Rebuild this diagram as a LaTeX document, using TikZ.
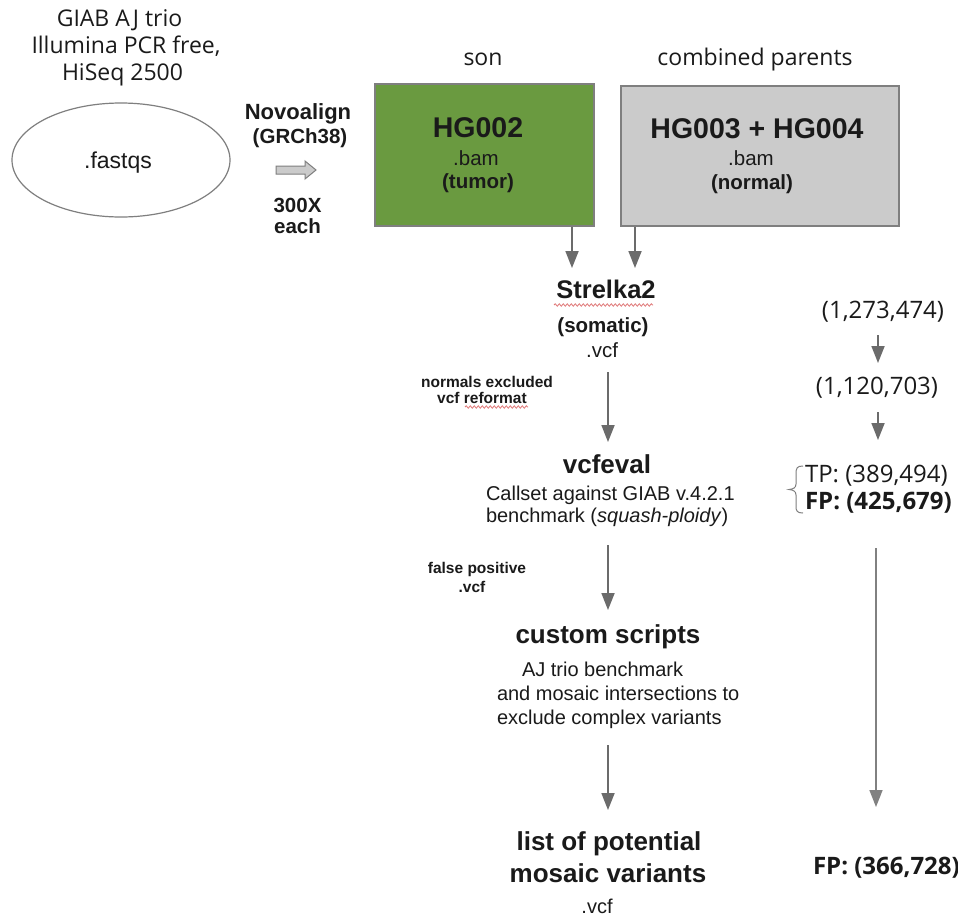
\documentclass[tikz,border=0pt]{standalone}
\usepackage{fontspec}
\setmainfont{Liberation Sans}
\newfontfamily\os{Open Sans}
\usetikzlibrary{arrows.meta,decorations.pathmorphing,shapes.geometric}
\definecolor{grn}{HTML}{6A9A40}
\definecolor{gbox}{HTML}{CBCBCB}
\definecolor{edge}{HTML}{7F7F7F}
\definecolor{arrg}{HTML}{6B6B6B}
\definecolor{txt}{HTML}{1A1A1A}
\definecolor{squig}{HTML}{E07878}
\newcommand\fs[1]{\fontsize{#1}{#1}\selectfont}
\begin{document}
\begin{tikzpicture}[x=1pt,y=-1pt,
  lab/.style={inner sep=0pt, outer sep=0pt, anchor=base, text=txt},
  labl/.style={lab, anchor=base west},
  arr/.style={draw=arrg, line width=1.8pt, -{Triangle[width=13pt,length=17pt]}},
  longarr/.style={draw=arrg!85, line width=1.6pt, -{Triangle[width=13pt,length=17pt]}},
  squiggle/.style={draw=squig, line width=0.8pt, decorate, decoration={snake, amplitude=1.2pt, segment length=4pt}}]
\useasboundingbox (0,0) rectangle (958,918);
\fill[white] (0,0) rectangle (958,918);

% source
\node[lab] (g1) at (119.5,26) {\os\fs{23}GIAB AJ trio};
\node[lab] (g2) at (126,53) {\os\fs{23}Illumina PCR free,};
\node[lab] (g3) at (122.5,80) {\os\fs{23}HiSeq 2500};
\node[draw=edge, line width=1.2pt, ellipse, minimum width=218pt, minimum height=114pt, inner sep=0pt] (fq) at (121,160) {};
\node[lab] (fqt) at (118,168) {\fs{23}.fastqs};

% aligner
\node[lab] (nv) at (298,119) {\bfseries\fs{22}Novoalign};
\node[lab] (gr) at (300,143) {\bfseries\fs{20.5}(GRCh38)};
\draw[draw=edge, fill=gbox, line width=1pt] (276,166) -- (305,166) -- (305,161) -- (316,170) -- (305,179) -- (305,174) -- (276,174) -- cycle;
\node[lab] (x3) at (297.5,212) {\bfseries\fs{20.5}300X};
\node[lab] (ea) at (297.5,233) {\bfseries\fs{20.5}each};

% samples
\node[lab] (son) at (483,65) {\os\fs{23}son};
\node[lab] (par) at (755,65) {\os\fs{23}combined parents};
\node[draw=edge, fill=grn, line width=1.5pt, minimum width=219pt, minimum height=142pt, inner sep=0pt, anchor=north west] (hg2) at (374,83) {};
\node[draw=edge, fill=gbox, line width=1.5pt, minimum width=278pt, minimum height=140pt, inner sep=0pt, anchor=north west] (hg34) at (620,85) {};
\node[lab] (h2a) at (478,137) {\bfseries\fs{28.5}HG002};
\node[lab] (h2b) at (476,165) {\fs{20.5}.bam};
\node[lab] (h2c) at (478,188) {\bfseries\fs{20.5}(tumor)};
\node[lab] (h3a) at (757,138) {\bfseries\fs{28.5}HG003 + HG004};
\node[lab] (h3b) at (751,165) {\fs{20.5}.bam};
\node[lab] (h3c) at (752,189) {\bfseries\fs{20.5}(normal)};

% Strelka2
\coordinate (a1) at (572,268);
\coordinate (a2) at (635,268);
\draw[arr] (hg2.south -| a1) -- (a1);
\draw[arr] (hg34.south -| a2) -- (a2);
\node[lab] (st) at (606,298) {\bfseries\fs{25.5}Strelka2};
\draw[squiggle] (554,305) -- (653,305);
\node[lab] (sts) at (603,332) {\bfseries\fs{20.5}(somatic)};
\node[lab] (stv) at (602,357) {\fs{20.5}.vcf};
\node[lab] (ne1) at (487,387) {\bfseries\fs{15.5}normals excluded};
\node[lab] (ne2) at (482,403) {\bfseries\fs{15.5}vcf reformat};
\draw[squiggle] (465,407) -- (528,407);

% vcfeval
\coordinate (b1) at (608,372);
\coordinate (b2) at (608,442);
\draw[arr] (b1) -- (b2);
\node[lab] (ve) at (607,473) {\bfseries\fs{26}vcfeval};
\node[labl] (ve1) at (486,500) {\fs{20}Callset against GIAB v.4.2.1};
\node[labl] (ve2) at (486,522) {\fs{20}benchmark (\textit{squash-ploidy})};

% custom scripts
\coordinate (c1) at (608,545);
\coordinate (c2) at (608,610);
\draw[arr] (c1) -- (c2);
\node[lab] (fp1) at (477,573) {\bfseries\fs{15.5}false positive};
\node[lab] (fp2) at (472,592) {\bfseries\fs{15.5}.vcf};
\node[lab] (cs) at (608,643) {\bfseries\fs{26}custom scripts};
\node[labl] (cs1) at (522,676) {\fs{20}AJ trio benchmark};
\node[labl] (cs2) at (497,700) {\fs{20}and mosaic intersections to};
\node[labl] (cs3) at (497,724) {\fs{20}exclude complex variants};

% result
\coordinate (d1) at (608,745);
\coordinate (d2) at (608,810);
\draw[arr] (d1) -- (d2);
\node[lab] (ls1) at (609,850) {\bfseries\fs{26}list of potential};
\node[lab] (ls2) at (608,882) {\bfseries\fs{26}mosaic variants};
\node[lab] (ls3) at (597,913) {\fs{20}.vcf};

% counts
\node[lab] (n1) at (883,318) {\os\fs{24}(1,273,474)};
\coordinate (r1a) at (878,335);
\coordinate (r1b) at (878,363);
\draw[arr] (r1a) -- (r1b);
\node[lab] (n2) at (877,394) {\os\fs{24}(1,120,703)};
\coordinate (r2a) at (878,412);
\coordinate (r2b) at (878,440);
\draw[arr] (r2a) -- (r2b);
\node[labl] (tp) at (805,482) {\os\fs{24}TP: (389,494)};
\node[labl] (fp) at (805,509) {\os\bfseries\fs{24}FP: (425,679)};
\draw[draw=edge, line width=1pt] (803,466) .. controls (797,466) and (796,468) .. (796,474) -- (796,484) .. controls (796,488) and (793,489) .. (789,489.5) .. controls (793,490) and (796,491) .. (796,495) -- (796,506) .. controls (796,511) and (797,513) .. (803,513);
\coordinate (r3a) at (876,548);
\coordinate (r3b) at (876,807);
\draw[longarr] (r3a) -- (r3b);
\node[labl] (fpf) at (813,874) {\os\bfseries\fs{24}FP: (366,728)};
\end{tikzpicture}
\end{document}
